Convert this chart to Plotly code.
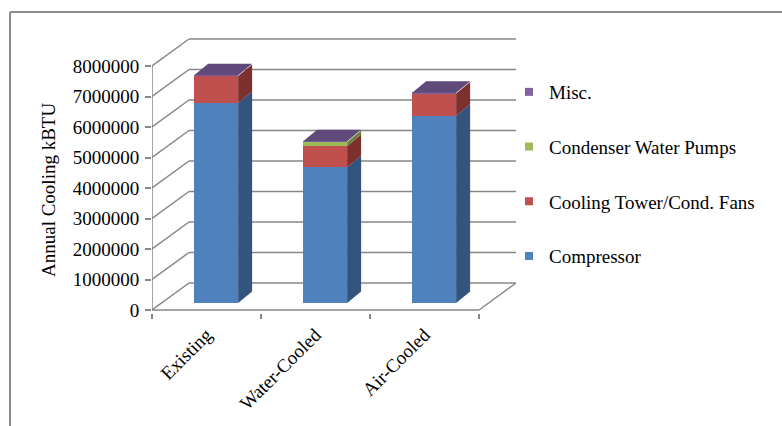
import plotly.graph_objects as go

# ---- data -------------------------------------------------------------
categories = ["Existing", "Water-Cooled", "Air-Cooled"]
series_names = ["Compressor", "Cooling Tower/Cond. Fans", "Condenser Water Pumps", "Misc."]
compressor = [6560000, 4450000, 6140000]
cooling_tower = [885000, 700000, 730000]
condenser_pumps = [0, 130000, 0]
misc = [25000, 25000, 25000]
y_ticks = [0, 1000000, 2000000, 3000000, 4000000, 5000000, 6000000, 7000000, 8000000]

series_values = [compressor, cooling_tower, condenser_pumps, misc]
front_colors = ["#4F81BD", "#C0504D", "#9BBB59", "#8064A2"]
side_colors = ["#33547D", "#7E302E", "#6A8238", "#56426F"]
top_color = "#604A7B"

# ---- page / plot-area geometry (pixels) ---------------------------------
W, H = 782, 426
L_PX, R_PX = 152, 520          # plot area left / right
PLOT_BOTTOM = 313              # plot area bottom (from top of page)
ZERO_PX = 310                  # where value 0 sits on the front plane
PX_PER_CAT = 109.0
PX_PER_UNIT = 30.5 / 1e6       # pixels per kBTU

x_range = [-0.5, -0.5 + (R_PX - L_PX) / PX_PER_CAT]
y_range = [-(PLOT_BOTTOM - ZERO_PX) / PX_PER_UNIT, ZERO_PX / PX_PER_UNIT]

# pseudo-3D depth offsets (in axis units)
WALL_DX = 37 / PX_PER_CAT
WALL_DY = 27 / PX_PER_UNIT
FACE_FRAC = 0.26               # bar front face sits this far into the floor
FACE_DX = FACE_FRAC * WALL_DX
FACE_DY = FACE_FRAC * WALL_DY
BAR_W = 44 / PX_PER_CAT
BAR_DX = 14 / PX_PER_CAT
BAR_DY = 11.5 / PX_PER_UNIT

GRID = "#878787"
FONT = dict(family="Liberation Serif", size=19, color="#000000")

fig = go.Figure()
shapes = []

def seg(x0, y0, x1, y1, width=1.5):
    shapes.append(dict(type="line", xref="x", yref="y", x0=x0, y0=y0, x1=x1, y1=y1,
                       line=dict(color=GRID, width=width), layer="below"))

x_left, x_right = -0.5, len(categories) - 0.5
# back wall gridlines + side wall diagonals
for v in y_ticks:
    seg(x_left, v, x_left + WALL_DX, v + WALL_DY)
    seg(x_left + WALL_DX, v + WALL_DY, x_right + WALL_DX, v + WALL_DY)
# front value axis line
seg(x_left, y_ticks[0], x_left, y_ticks[-1])
# floor: front edge and right edge
seg(x_left, y_ticks[0], x_right, y_ticks[0])
seg(x_right, y_ticks[0], x_right + WALL_DX, y_ticks[0] + WALL_DY)

# ---- stacked bars -------------------------------------------------------
for ci, cat in enumerate(categories):
    base = 0.0
    xc = ci + FACE_DX
    xl, xr = xc - BAR_W / 2, xc + BAR_W / 2
    top_idx = max(i for i, s in enumerate(series_values) if s[ci] > 0)
    for si, vals in enumerate(series_values):
        v = vals[ci]
        if v <= 0:
            continue
        y0, y1 = base + FACE_DY, base + v + FACE_DY
        fig.add_trace(go.Bar(
            x=[xc], y=[v], base=[y0], width=[BAR_W],
            marker=dict(color=front_colors[si], line=dict(width=0)),
            showlegend=False, hoverinfo="skip",
        ))
        # right side face
        fig.add_trace(go.Scatter(
            x=[xr, xr + BAR_DX, xr + BAR_DX, xr, xr],
            y=[y0, y0 + BAR_DY, y1 + BAR_DY, y1, y0],
            mode="lines", fill="toself", fillcolor=side_colors[si],
            line=dict(width=0, color=side_colors[si]),
            showlegend=False, hoverinfo="skip",
        ))
        if si == top_idx:
            fig.add_trace(go.Scatter(
                x=[xl, xl + BAR_DX, xr + BAR_DX, xr, xl],
                y=[y1, y1 + BAR_DY, y1 + BAR_DY, y1, y1],
                mode="lines", fill="toself", fillcolor=top_color,
                line=dict(width=0, color=top_color),
                showlegend=False, hoverinfo="skip",
            ))
        base += v

# legend entries, top of the stack listed first
for si in reversed(range(len(series_names))):
    name = series_names[si]
    fig.add_trace(go.Scatter(
        x=[None], y=[None], mode="markers", name=name, legendgroup=name,
        marker=dict(symbol="square", size=8, color=front_colors[si]),
    ))

# axis for boundary tick marks on the floor front edge
fig.add_trace(go.Scatter(x=[None], y=[None], xaxis="x2", showlegend=False))

plot_h = PLOT_BOTTOM
plot_w = R_PX - L_PX

def px_to_paper(px, py):
    return (px - L_PX) / plot_w, (PLOT_BOTTOM - py) / plot_h

# outer chart frame (left and top edges)
fx0, fy0 = px_to_paper(10, 12)
fx1, fy1 = px_to_paper(W + 5, H + 5)
shapes.append(dict(type="line", xref="paper", yref="paper", x0=fx0, y0=fy0, x1=fx0, y1=fy1,
                   line=dict(color="#8C8C8C", width=2)))
shapes.append(dict(type="line", xref="paper", yref="paper", x0=fx0, y0=fy0, x1=fx1, y1=fy0,
                   line=dict(color="#8C8C8C", width=2)))

tx, ty = px_to_paper(48, 190)
lx, ly = px_to_paper(509, 73)

fig.update_layout(
    width=W, height=H,
    margin=dict(l=L_PX, r=W - R_PX, t=0, b=H - PLOT_BOTTOM, autoexpand=False),
    paper_bgcolor="white", plot_bgcolor="rgba(0,0,0,0)",
    barmode="overlay", bargap=0,
    font=FONT,
    shapes=shapes,
    xaxis=dict(range=x_range, tickmode="array", tickvals=list(range(len(categories))),
               ticktext=categories, tickangle=-45, ticks="", showgrid=False,
               zeroline=False, showline=False, tickfont=FONT, ticklabelstandoff=6),
    xaxis2=dict(range=x_range, overlaying="x", anchor="y", side="bottom",
                tickmode="array", tickvals=[i - 0.5 for i in range(len(categories) + 1)],
                ticks="outside", ticklen=5, tickwidth=1.5, tickcolor=GRID,
                showticklabels=False, showgrid=False, zeroline=False, showline=False),
    yaxis=dict(range=y_range, tickmode="array", tickvals=y_ticks,
               ticktext=[str(v) for v in y_ticks], ticks="outside", ticklen=6,
               tickwidth=1.5, tickcolor=GRID, showgrid=False, zeroline=False,
               showline=False, tickfont=FONT, ticklabelstandoff=2),
    legend=dict(x=lx, y=ly, xanchor="left", yanchor="top", traceorder="grouped",
                tracegroupgap=27, font=FONT, bgcolor="rgba(0,0,0,0)", itemwidth=30),
    annotations=[dict(text="Annual Cooling kBTU", xref="paper", yref="paper", x=tx, y=ty,
                      textangle=-90, showarrow=False, font=FONT,
                      xanchor="center", yanchor="middle")],
    showlegend=True,
)

fig.write_html("out.html")
